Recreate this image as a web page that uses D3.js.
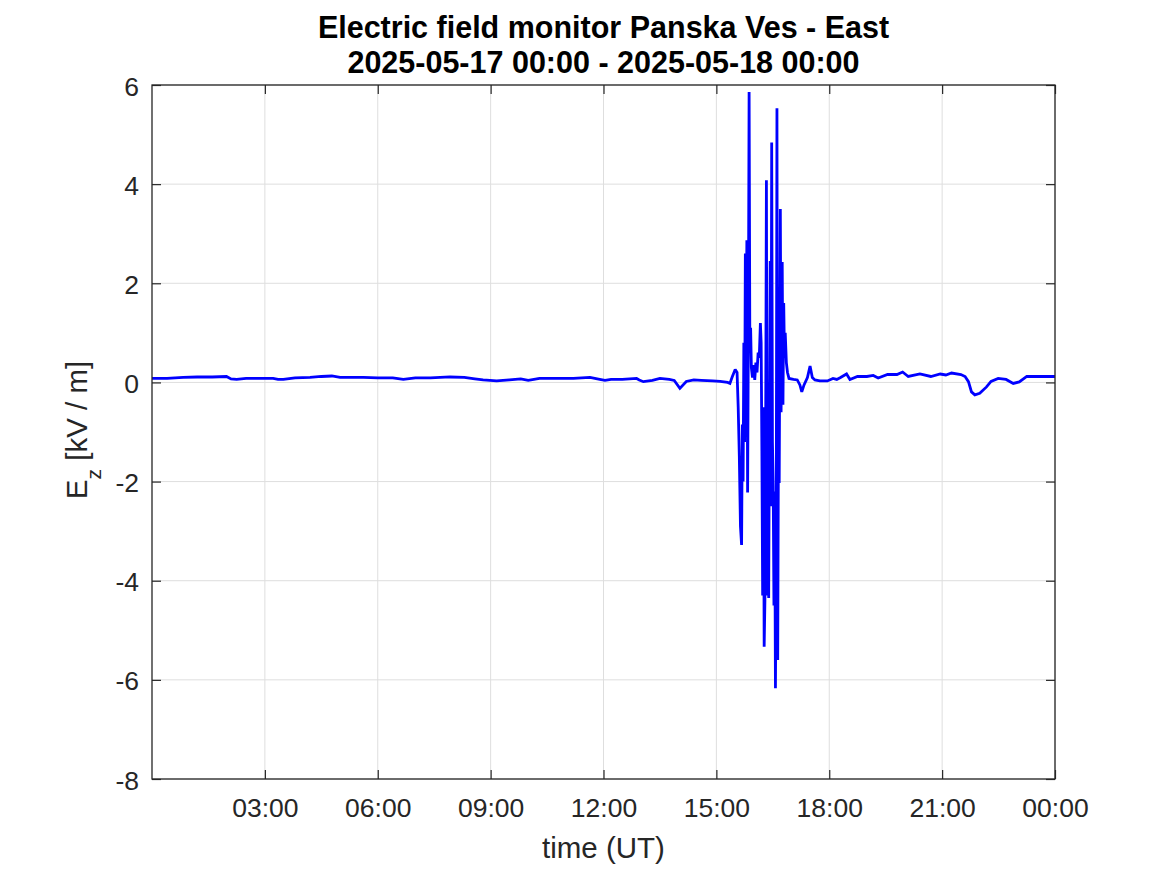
<!DOCTYPE html>
<html>
<head>
<meta charset="utf-8">
<script src="https://cdn.jsdelivr.net/npm/d3@7"></script>
<style>
  html, body { margin: 0; padding: 0; background: #ffffff; }
  svg { display: block; }
  text { font-family: "Liberation Sans", Arial, Helvetica, sans-serif; }
</style>
</head>
<body>
<svg id="chart" width="1167" height="875"></svg>
<script>
// ---- data (hours since 2025-05-17 00:00 UT, Ez in kV/m) ----
const titleLines = ["Electric field monitor Panska Ves - East", "2025-05-17 00:00 - 2025-05-18 00:00"];
const xLabel = "time (UT)";
const yTicks = [-8, -6, -4, -2, 0, 2, 4, 6];
const xTickHours = [3, 6, 9, 12, 15, 18, 21, 24];
const timeHours = [
  0.00, 0.40, 0.83, 1.20, 1.60, 1.98, 2.10, 2.25, 2.50, 2.90, 3.22, 3.35, 3.49, 3.80, 4.20, 4.50, 4.78, 5.00, 5.30, 5.62,
  6.00, 6.40, 6.68, 7.00, 7.40, 7.92, 8.30, 8.58, 8.80, 9.16, 9.50, 9.80, 10.00, 10.30, 10.76, 11.20, 11.64, 11.90, 12.04,
  12.20, 12.50, 12.88, 12.95, 13.06, 13.30, 13.50, 13.75, 13.88, 14.03, 14.20, 14.40, 14.60, 14.90, 15.10, 15.30,
  15.36, 15.42, 15.50, 15.55, 15.58, 15.61, 15.64, 15.67, 15.69, 15.71, 15.73, 15.75, 15.77, 15.79, 15.81, 15.83, 15.85,
  15.87, 15.89, 15.91, 15.93, 15.96, 15.99, 16.02, 16.05, 16.08, 16.11, 16.14, 16.17, 16.19, 16.21, 16.23, 16.25, 16.27,
  16.29, 16.31, 16.33, 16.35, 16.37, 16.39, 16.41, 16.43, 16.45, 16.47, 16.49, 16.51, 16.53, 16.55, 16.57, 16.59, 16.61,
  16.63, 16.65, 16.67, 16.70, 16.72, 16.75, 16.77, 16.79, 16.81, 16.83, 16.86, 16.89, 16.93,
  17.05, 17.15, 17.22, 17.27, 17.33, 17.42, 17.49, 17.55, 17.62, 17.75, 17.95, 18.10, 18.20, 18.30, 18.46, 18.55, 18.75,
  19.00, 19.17, 19.30, 19.55, 19.80, 19.95, 20.10, 20.41, 20.70, 20.95, 21.10, 21.25, 21.50, 21.61, 21.70, 21.78, 21.87,
  22.00, 22.18, 22.30, 22.49, 22.70, 22.89, 23.05, 23.25, 23.60, 24.00
];
const ezValues = [
  0.08, 0.08, 0.10, 0.11, 0.11, 0.12, 0.07, 0.06, 0.08, 0.08, 0.08, 0.06, 0.06, 0.09, 0.10, 0.12, 0.13, 0.10, 0.10, 0.10,
  0.09, 0.09, 0.06, 0.09, 0.09, 0.11, 0.10, 0.07, 0.05, 0.03, 0.05, 0.07, 0.04, 0.08, 0.08, 0.08, 0.10, 0.06, 0.04,
  0.06, 0.06, 0.08, 0.05, 0.015, 0.04, 0.08, 0.06, 0.04, -0.12, 0.02, 0.05, 0.04, 0.03, 0.02, 0.00,
  -0.02, 0.11, 0.26, 0.20, -0.5, -1.5, -2.9, -3.28, -0.85, -2.0, 0.80, -1.2, 2.6, 0.2, 2.87, -2.22, 1.0,
  5.86, 0.6, 1.1, 0.3, 0.1, 0.35, 0.05, 0.4, 0.2, 0.6, 0.5, 1.2, 0.8, -1.4, -4.3, -0.5, -5.33,
  -4.4, -1.0, 4.08, -4.3, -2.5, -4.35, -0.8, 2.45, -2.5, 4.84, -1.2, -2.1, -4.5, -2.2, -6.17, -3.5, 5.53,
  -5.6, -1.0, -2.03, 3.5, -0.6, 2.43, -0.45, 1.6, 0.5, 1.0, 0.4, 0.2, 0.08,
  0.06, 0.05, -0.05, -0.19, -0.05, 0.10, 0.33, 0.10, 0.05, 0.03, 0.03, 0.08, 0.06, 0.10, 0.17, 0.06, 0.12,
  0.12, 0.14, 0.09, 0.16, 0.16, 0.21, 0.12, 0.17, 0.12, 0.17, 0.15, 0.19, 0.16, 0.12, 0.015, -0.19, -0.25,
  -0.22, -0.09, 0.02, 0.08, 0.06, -0.02, 0.01, 0.12, 0.12, 0.12
];

// ---- layout ----
const W = 1167, H = 875;
const margin = { left: 152, right: 112, top: 85, bottom: 96 };
const pw = W - margin.left - margin.right;
const ph = H - margin.top - margin.bottom;
const t0 = Date.UTC(2025, 4, 17, 0, 0);
const toDate = h => new Date(t0 + h * 3600 * 1000);

const svg = d3.select("#chart");
const g = svg.append("g").attr("transform", `translate(${margin.left},${margin.top})`);

const x = d3.scaleUtc().domain([toDate(0), toDate(24)]).range([0, pw]);
const y = d3.scaleLinear().domain([-8, 6]).range([ph, 0]);
const xTickDates = xTickHours.map(toDate);
const fmt = d3.utcFormat("%H:%M");

// grid
g.append("g").selectAll("line").data(xTickDates).join("line")
  .attr("x1", d => x(d)).attr("x2", d => x(d)).attr("y1", 0).attr("y2", ph)
  .attr("stroke", "#dedede").attr("stroke-width", 1);
g.append("g").selectAll("line").data(yTicks).join("line")
  .attr("x1", 0).attr("x2", pw).attr("y1", d => y(d)).attr("y2", d => y(d))
  .attr("stroke", "#dedede").attr("stroke-width", 1);

// data line
const data = timeHours.map((h, i) => ({ t: toDate(h), v: ezValues[i] }));
g.append("path").datum(data)
  .attr("fill", "none").attr("stroke", "#0000ff").attr("stroke-width", 2.8)
  .attr("stroke-linejoin", "miter").attr("stroke-miterlimit", 2)
  .attr("d", d3.line().x(d => x(d.t)).y(d => y(d.v)));

// axes (ticks inside)
const tickLen = 9;
const tickFont = 26.5;
const xBottom = g.append("g").attr("transform", `translate(0,${ph})`)
  .call(d3.axisBottom(x).tickValues(xTickDates).tickFormat(fmt).tickSizeInner(-tickLen).tickSizeOuter(0).tickPadding(19));
const xTop = g.append("g")
  .call(d3.axisTop(x).tickValues(xTickDates).tickFormat("").tickSizeInner(-tickLen).tickSizeOuter(0));
const yLeft = g.append("g")
  .call(d3.axisLeft(y).tickValues(yTicks).tickSizeInner(-tickLen).tickSizeOuter(0).tickPadding(13));
const yRight = g.append("g").attr("transform", `translate(${pw},0)`)
  .call(d3.axisRight(y).tickValues(yTicks).tickFormat("").tickSizeInner(-tickLen).tickSizeOuter(0));

[xBottom, xTop, yLeft, yRight].forEach(a => {
  a.select(".domain").remove();
  a.selectAll(".tick line").attr("stroke", "#262626").attr("stroke-width", 1.2);
  a.selectAll(".tick text").attr("fill", "#262626").style("font-size", tickFont + "px")
    .style("font-family", '"Liberation Sans", Arial, sans-serif');
});
yLeft.selectAll(".tick text").attr("dy", "0.38em").text(d => d < 0 ? "-" + Math.abs(d) : String(d));

// frame
g.append("rect").attr("x", 0).attr("y", 0).attr("width", pw).attr("height", ph)
  .attr("fill", "none").attr("stroke", "#262626").attr("stroke-width", 1.3);

// title
const cx = margin.left + pw / 2;
svg.append("text").attr("x", cx).attr("y", 38)
  .attr("text-anchor", "middle").attr("font-weight", "bold").attr("font-size", 30.5).attr("fill", "#000")
  .text(titleLines[0]);
svg.append("text").attr("x", cx).attr("y", 73)
  .attr("text-anchor", "middle").attr("font-weight", "bold").attr("font-size", 30.5).attr("fill", "#000")
  .text(titleLines[1]);

// x label
svg.append("text").attr("x", cx).attr("y", 858)
  .attr("text-anchor", "middle").attr("font-size", 29.5).attr("fill", "#262626").text(xLabel);

// y label with subscript
const yl = svg.append("text")
  .attr("transform", `translate(87,${margin.top + ph / 2 - 2}) rotate(-90)`)
  .attr("text-anchor", "middle").attr("font-size", 29.5).attr("fill", "#262626");
yl.append("tspan").text("E");
yl.append("tspan").attr("font-size", 21).attr("dy", 14).text("z");
yl.append("tspan").attr("dy", -14).text(" [kV / m]");
</script>
</body>
</html>
